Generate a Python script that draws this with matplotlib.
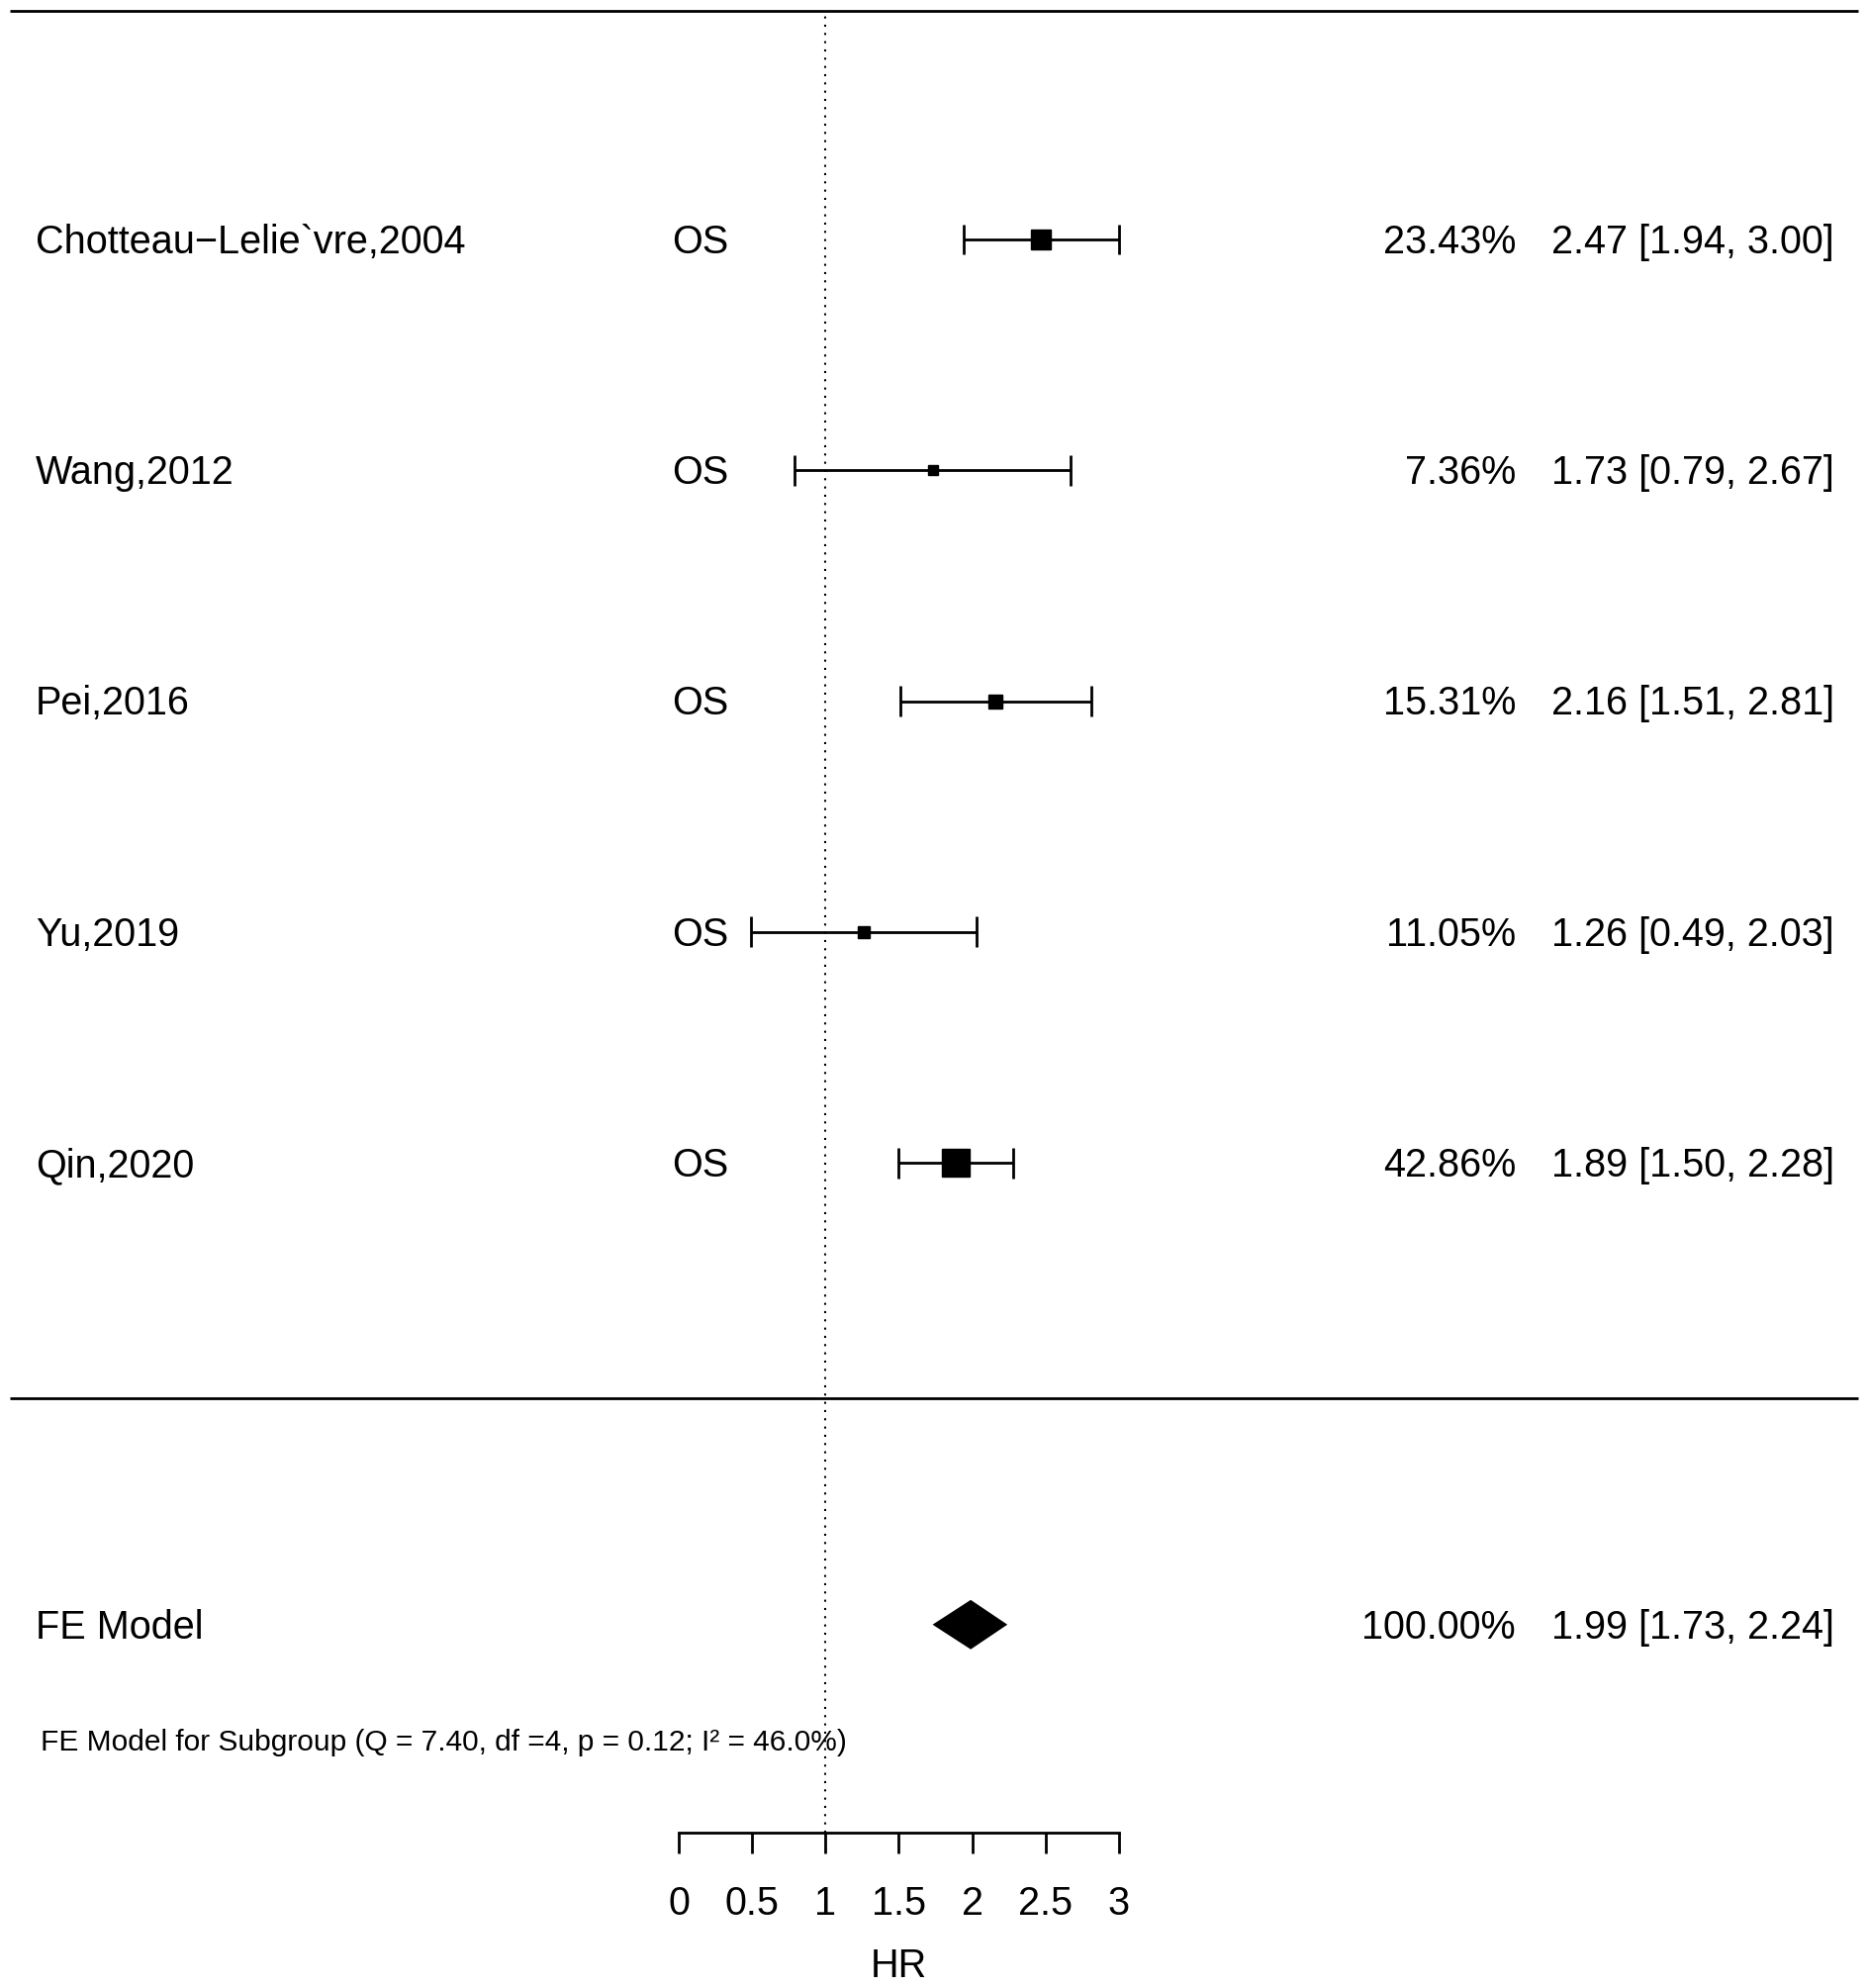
import matplotlib
matplotlib.use('Agg')
import matplotlib.pyplot as plt
import numpy as np

# ---- data ----
studies = ["Chotteau\u2212Lelie`vre,2004", "Wang,2012", "Pei,2016", "Yu,2019", "Qin,2020"]
outcome = ["OS", "OS", "OS", "OS", "OS"]
hr = [2.47, 1.73, 2.16, 1.26, 1.89]
ci_lo = [1.94, 0.79, 1.51, 0.49, 1.50]
ci_hi = [3.00, 2.67, 2.81, 2.03, 2.28]
weights = [23.43, 7.36, 15.31, 11.05, 42.86]

fe_label = "FE Model"
fe_hr = 1.99
fe_lo = 1.73
fe_hi = 2.24
fe_weight = 100.00
het_text = "FE Model for Subgroup (Q = 7.40, df =4, p = 0.12; I\u00b2 = 46.0%)"

xticks = [0, 0.5, 1, 1.5, 2, 2.5, 3]
xticklabels = ["0", "0.5", "1", "1.5", "2", "2.5", "3"]
xlabel = "HR"
ref_line = 1

plt.rcParams['font.family'] = ['Liberation Sans', 'DejaVu Sans']

fig = plt.figure(figsize=(18.9, 20.09), dpi=100)
ax = fig.add_axes([0, 0, 1, 1])
ax.set_xlim(-4.626, 8.119)
ax.set_ylim(-2.574, 6.037)

FS = 28.5
LW = 2.0
n = len(studies)
rows = list(range(n, 0, -1))
fe_row = -1
toff = -0.012  # text baseline tweak

# marker sizes (metafor style: scaled 1/sqrt(v) -> range 0.5..1.5)
wi = np.sqrt(np.array(weights))
ps = 0.5 + (wi - wi.min()) / (wi.max() - wi.min())
ms = ps * 13.0

cap = 0.066
for i in range(n):
    y = rows[i]
    ax.hlines(y, ci_lo[i], ci_hi[i], color='black', lw=LW)
    ax.vlines([ci_lo[i], ci_hi[i]], y - cap, y + cap, color='black', lw=LW)
    ax.plot(hr[i], y, marker='s', ms=ms[i], color='black', linestyle='none')
    ax.text(-4.383, y + toff, studies[i], ha='left', va='center', fontsize=FS)
    ax.text(-0.044, y + toff, outcome[i], ha='left', va='center', fontsize=FS)
    ax.text(5.705, y + toff, f"{weights[i]:.2f}%", ha='right', va='center', fontsize=FS)
    ax.text(7.876, y + toff, f"{hr[i]:.2f} [{ci_lo[i]:.2f}, {ci_hi[i]:.2f}]",
            ha='right', va='center', fontsize=FS)

# summary diamond
dh = 0.107
ax.fill([fe_lo, fe_hr, fe_hi, fe_hr], [fe_row, fe_row + dh, fe_row, fe_row - dh],
        color='black', lw=0)
ax.text(-4.383, fe_row + toff, fe_label, ha='left', va='center', fontsize=FS)
ax.text(5.705, fe_row + toff, f"{fe_weight:.2f}%", ha='right', va='center', fontsize=FS)
ax.text(7.876, fe_row + toff, f"{fe_hr:.2f} [{fe_lo:.2f}, {fe_hi:.2f}]",
        ha='right', va='center', fontsize=FS)

ax.text(-4.35, -1.51, het_text, ha='left', va='center', fontsize=21.5)

# horizontal rules
ax.hlines([5.99, -0.02], -4.558, 8.04, color='black', lw=LW)
# reference line
ax.vlines(ref_line, -1.9, 5.99, color='black', lw=1.5, linestyles=(0, (1, 3)))

# x axis
for s in ['top', 'right', 'left']:
    ax.spines[s].set_visible(False)
ax.spines['bottom'].set_position(('data', -1.9))
ax.spines['bottom'].set_bounds(0, 3)
ax.spines['bottom'].set_linewidth(LW)
ax.set_yticks([])
ax.set_xticks(xticks)
ax.set_xticklabels(xticklabels, fontsize=FS)
ax.tick_params(axis='x', direction='out', length=15, width=LW, pad=23)
ax.set_xlabel(xlabel, fontsize=FS)
ax.xaxis.set_label_coords((1.5 + 4.626) / (8.119 + 4.626), 0.0015, transform=ax.transAxes)
ax.xaxis.label.set_va('bottom')

fig.savefig('out.png', dpi=100)
